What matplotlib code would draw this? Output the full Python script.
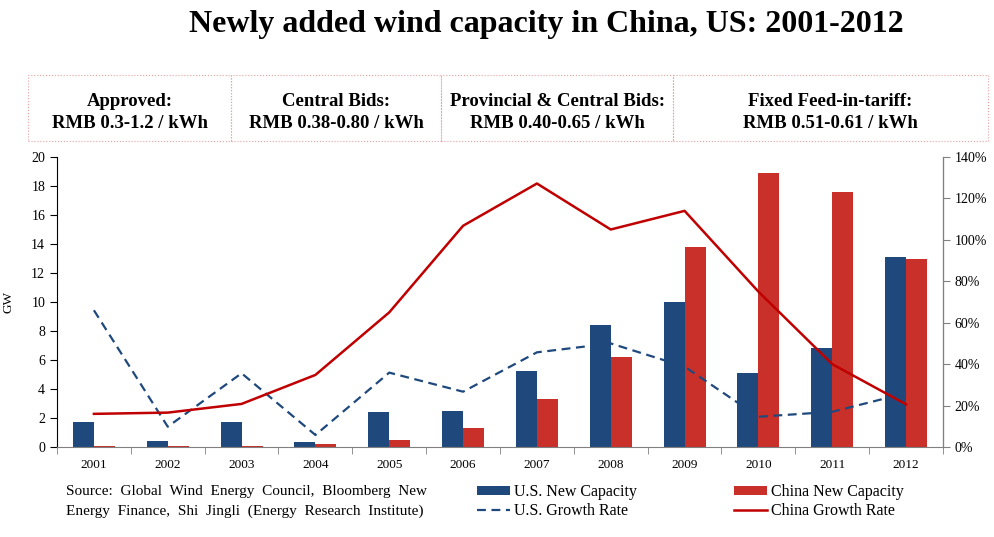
import matplotlib.pyplot as plt
from matplotlib.patches import Rectangle
from matplotlib.ticker import FuncFormatter, MultipleLocator
import numpy as np

plt.rcParams['font.family'] = ['Liberation Serif', 'DejaVu Serif']

years = ['2001', '2002', '2003', '2004', '2005', '2006',
         '2007', '2008', '2009', '2010', '2011', '2012']
us_new = [1.7, 0.41, 1.7, 0.37, 2.42, 2.45, 5.25, 8.4, 10.0, 5.1, 6.8, 13.1]
china_new = [0.07, 0.07, 0.1, 0.2, 0.5, 1.3, 3.3, 6.2, 13.8, 18.9, 17.6, 13.0]
us_growth = [66, 9.8, 35.6, 5.8, 35.9, 26.7, 45.7, 50, 38.8, 14.6, 17, 26]
china_growth = [16, 16.6, 20.8, 34.8, 65, 106.8, 127.2, 105, 114, 75, 40, 20.6]

policy_titles = ['Approved:', 'Central Bids:', 'Provincial & Central Bids:',
                 'Fixed Feed-in-tariff:']
policy_prices = ['RMB 0.3-1.2 / kWh', 'RMB 0.38-0.80 / kWh',
                 'RMB 0.40-0.65 / kWh', 'RMB 0.51-0.61 / kWh']
box_edges = [28, 231, 441, 673, 988]  # pixel x of the header panel borders

blue = '#1F497D'
red_bar = '#C9302A'
red_line = '#C00000'

W, H = 994, 537
fig = plt.figure(figsize=(W / 100, H / 100), dpi=100)
ax = fig.add_axes([57 / W, 1 - 447 / H, 886 / W, 290 / H])
ax2 = ax.twinx()

x = np.arange(len(years))
bw = 0.285
b1 = ax.bar(x - bw / 2, us_new, bw, color=blue, label='U.S. New Capacity', zorder=2)
b2 = ax.bar(x + bw / 2, china_new, bw, color=red_bar, label='China New Capacity', zorder=2)
l1, = ax2.plot(x, us_growth, color=blue, lw=1.6, ls=(0, (4, 2.5)), label='U.S. Growth Rate')
l2, = ax2.plot(x, china_growth, color=red_line, lw=1.8, label='China Growth Rate')

ax.set_xlim(-0.5, len(years) - 0.5)
ax.set_ylim(0, 20)
ax2.set_ylim(0, 140)
ax.yaxis.set_major_locator(MultipleLocator(2))
ax2.yaxis.set_major_locator(MultipleLocator(20))
ax2.yaxis.set_major_formatter(FuncFormatter(lambda v, p: f'{v:.0f}%'))

ax.set_xticks(x)
ax.set_xticklabels(years, fontsize=9.5)
ax.set_xticks(np.arange(-0.5, len(years)), minor=True)
ax.tick_params(axis='x', which='major', length=0, pad=9)
ax.tick_params(axis='x', which='minor', length=5, color='#808080', direction='out')
ax.tick_params(axis='y', labelsize=10, length=5, direction='out', color='black')
ax2.tick_params(axis='y', labelsize=10, length=5, direction='out', color='#808080')

for a in (ax, ax2):
    a.spines['top'].set_visible(False)
ax.spines['left'].set_color('black')
ax.spines['bottom'].set_color('#808080')
ax2.spines['right'].set_color('#808080')
ax2.spines['left'].set_visible(False)
ax2.spines['bottom'].set_visible(False)
ax.set_ylabel('GW', fontsize=9.5)
ax.yaxis.set_label_coords(-43 / 886, 0.5)

fig.text(546 / W, 1 - 32 / H, 'Newly added wind capacity in China, US: 2001-2012',
         ha='center', va='baseline', fontsize=23, fontweight='bold')

# policy header panels
top, bottom = 1 - 75 / H, 1 - 141 / H
for i in range(len(policy_titles)):
    x0, x1 = box_edges[i] / W, box_edges[i + 1] / W
    fig.patches.append(Rectangle((x0, bottom), x1 - x0, top - bottom,
                                 transform=fig.transFigure, fill=False,
                                 edgecolor='#E8A0A0', lw=0.8, ls=':'))
    cx = (x0 + x1) / 2
    fig.text(cx, 1 - 102 / H, policy_titles[i], ha='center', va='center',
             fontsize=13.5, fontweight='bold')
    fig.text(cx, 1 - 123 / H, policy_prices[i], ha='center', va='center',
             fontsize=13.5, fontweight='bold')

fig.text(66 / W, 1 - 492 / H, 'Source:  Global  Wind  Energy  Council,  Bloomberg  New',
         ha='left', va='center', fontsize=11)
fig.text(66 / W, 1 - 511 / H, 'Energy  Finance,  Shi  Jingli  (Energy  Research  Institute)',
         ha='left', va='center', fontsize=11)

fig.legend(handles=[b1, l1, b2, l2], loc='upper left', bbox_to_anchor=(477 / W, 1 - 484 / H),
           ncol=2, frameon=False, fontsize=11.5, handlelength=2.07, handleheight=0.45,
           handletextpad=0.25, columnspacing=6.1, labelspacing=0.2, borderaxespad=0,
           borderpad=0)

fig.savefig('out.png', dpi=100)
